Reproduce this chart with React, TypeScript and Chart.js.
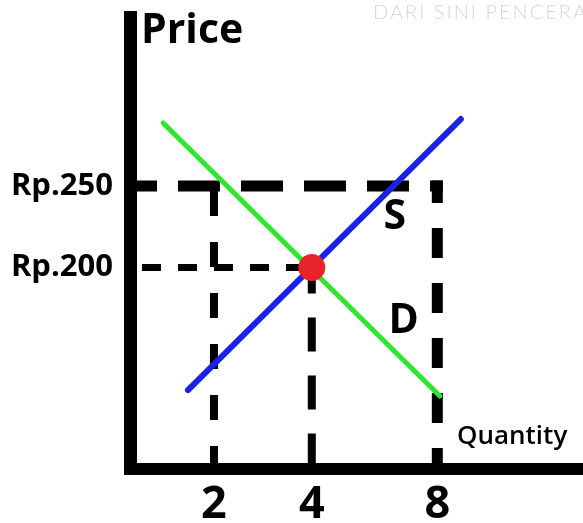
import React, { useEffect, useRef } from "react";
import { Chart, registerables } from "chart.js";

Chart.register(...registerables);

// ---- Data ----
// Quantity ticks and where each one sits on the drawn (not-to-scale) horizontal axis
const quantityLabels = ["2", "4", "8"];
const quantityAxisPos = [2, 4.33, 7.32];

// Price ticks
const priceValues = [200, 250];
const priceLabels = ["Rp.200", "Rp.250"];

// Demand (D) and Supply (S) lines: endpoints [axisPos, price]
const demandX = [0.79, 7.38];
const demandY = [288.7, 121.2];
const supplyX = [1.38, 7.88];
const supplyY = [124.8, 291.1];

// Equilibrium point
const equilibriumQtyIndex = 1; // quantity "4"
const equilibriumPrice = 200;

// Curve labels [text, axisPos, price]
const curveLabelText = ["S", "D"];
const curveLabelX = [6.31, 6.52];
const curveLabelY = [231, 167.2];

const axisTitleY = "Price";
const axisTitleX = "Quantity";
const watermark = "DARI SINI PENCERA";

// scale ranges
const X_MIN = 0;
const X_MAX = 10.79;
const Y_MIN = 76.4;
const Y_MAX = 353.7;

const FONT = '"Open Sans", "Lato", sans-serif';

const textPlugin = {
  id: "sketchText",
  afterDatasetsDraw(chart: any) {
    const { ctx, chartArea, scales } = chart;
    const xs = scales.x;
    const ys = scales.y;
    ctx.save();
    ctx.fillStyle = "#000";

    ctx.font = `bold 41px ${FONT}`;
    ctx.textAlign = "center";
    ctx.textBaseline = "middle";
    curveLabelText.forEach((t, i) => {
      ctx.fillText(t, xs.getPixelForValue(curveLabelX[i]), ys.getPixelForValue(curveLabelY[i]));
    });

    ctx.textAlign = "left";
    ctx.textBaseline = "alphabetic";
    ctx.font = `bold 41px ${FONT}`;
    ctx.fillText(axisTitleY, chartArea.left + 11, chartArea.top + 26);

    ctx.font = `600 26px ${FONT}`;
    ctx.fillText(axisTitleX, chartArea.left + 327, chartArea.bottom - 25);

    ctx.fillStyle = "#d6d6d6";
    ctx.font = `300 20px "Lato", sans-serif`;
    try {
      (ctx as any).letterSpacing = "2px";
    } catch (e) {}
    ctx.fillText(watermark, chartArea.left + 243, 19);
    ctx.restore();
  },
};

function seg(x0: number, y0: number, x1: number, y1: number) {
  return [
    { x: x0, y: y0 },
    { x: x1, y: y1 },
  ];
}

export default function App() {
  const ref = useRef<HTMLCanvasElement | null>(null);

  useEffect(() => {
    if (!ref.current) return;
    const q2 = quantityAxisPos[0];
    const q4 = quantityAxisPos[equilibriumQtyIndex];
    const q8 = quantityAxisPos[2];
    const pHi = priceValues[1];
    const pLo = priceValues[0];

    const dashBase = {
      showLine: true,
      pointRadius: 0,
      borderColor: "#000",
      backgroundColor: "#000",
      fill: false,
    };

    const chart = new Chart(ref.current, {
      type: "scatter",
      data: {
        datasets: [
          {
            label: "equilibrium",
            data: [{ x: q4, y: equilibriumPrice }],
            pointRadius: 13.5,
            pointBackgroundColor: "#e8242b",
            pointBorderWidth: 0,
            pointBorderColor: "#e8242b",
          } as any,
          {
            label: "S",
            data: supplyX.map((x, i) => ({ x, y: supplyY[i] })),
            showLine: true,
            pointRadius: 0,
            borderColor: "#1b22e8",
            borderWidth: 6,
            borderCapStyle: "round",
          },
          {
            label: "D",
            data: demandX.map((x, i) => ({ x, y: demandY[i] })),
            showLine: true,
            pointRadius: 0,
            borderColor: "#2fe52f",
            borderWidth: 5,
            borderCapStyle: "round",
          },
          {
            ...dashBase,
            label: "h250",
            data: seg(X_MIN, pHi, q8, pHi),
            borderWidth: 11,
            borderCapStyle: "square",
            borderDash: [31, 32],
            borderDashOffset: 9.5,
          },
          {
            ...dashBase,
            label: "v8",
            data: seg(q8, pHi, q8, Y_MIN),
            borderWidth: 11,
            borderCapStyle: "square",
            borderDash: [19, 36],
            borderDashOffset: 7.5,
          },
          {
            ...dashBase,
            label: "v2",
            data: seg(q2, pHi, q2, Y_MIN),
            borderWidth: 8,
            borderDash: [25, 26],
            borderDashOffset: 46,
          },
          {
            ...dashBase,
            label: "h200",
            data: seg(X_MIN, pLo, q4, pLo),
            borderWidth: 7,
            borderDash: [19, 17],
            borderDashOffset: 24,
          },
          {
            ...dashBase,
            label: "v4",
            data: seg(q4, pLo, q4, Y_MIN),
            borderWidth: 8,
            borderDash: [34, 24],
            borderDashOffset: 8,
          },
        ] as any,
      },
      options: {
        animation: false,
        responsive: false,
        maintainAspectRatio: false,
        layout: { autoPadding: false, padding: { top: 17, left: 0, right: 0, bottom: 0 } },
        plugins: {
          legend: { display: false },
          tooltip: { enabled: false },
        },
        scales: {
          x: {
            type: "linear",
            min: X_MIN,
            max: X_MAX,
            grid: { display: false, drawTicks: false },
            border: { display: true, width: 12, color: "#000" },
            afterBuildTicks: (scale: any) => {
              scale.ticks = quantityAxisPos.map((v) => ({ value: v }));
            },
            afterFit: (scale: any) => {
              scale.height = 54;
              scale.paddingLeft = 0;
              scale.paddingRight = 0;
              scale.paddingTop = 0;
              scale.paddingBottom = 0;
            },
            ticks: {
              autoSkip: false,
              maxRotation: 0,
              padding: 9,
              color: "#000",
              font: { family: FONT, weight: "bold", size: 45 },
              callback: (value: any) => {
                const i = quantityAxisPos.indexOf(Number(value));
                return i >= 0 ? quantityLabels[i] : "";
              },
            },
          },
          y: {
            type: "linear",
            min: Y_MIN,
            max: Y_MAX,
            grid: { display: false, drawTicks: false },
            border: { display: true, width: 13, color: "#000" },
            afterBuildTicks: (scale: any) => {
              scale.ticks = priceValues.map((v) => ({ value: v }));
            },
            afterFit: (scale: any) => {
              scale.width = 130;
              scale.paddingLeft = 0;
              scale.paddingRight = 0;
              scale.paddingTop = 0;
              scale.paddingBottom = 0;
            },
            ticks: {
              autoSkip: false,
              padding: 17,
              color: "#000",
              font: { family: FONT, weight: "bold", size: 31 },
              callback: (value: any) => {
                const i = priceValues.indexOf(Number(value));
                return i >= 0 ? priceLabels[i] : "";
              },
            },
          },
        },
      } as any,
      plugins: [textPlugin],
    });
    return () => chart.destroy();
  }, []);

  return (
    <div style={{ position: "absolute", left: 0, top: 0, width: 583, height: 523, background: "#fff" }}>
      <canvas ref={ref} width={583} height={523} style={{ display: "block" }} />
    </div>
  );
}
